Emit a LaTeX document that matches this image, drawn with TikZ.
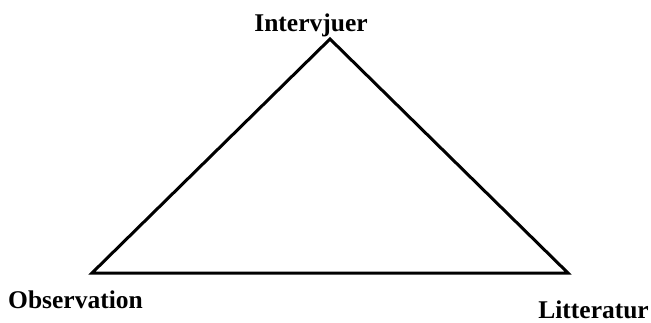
\documentclass[tikz,border=0pt]{standalone}
\usepackage{fontspec}
\setmainfont{Liberation Serif}
\begin{document}
\begin{tikzpicture}[x=1pt,y=-1pt,
  lbl/.style={font=\fontsize{25.5}{30}\selectfont\bfseries, inner sep=0pt},
  edge/.style={line width=3pt, line join=miter}]
\useasboundingbox (0,0) rectangle (651,322);
\fill[white] (0,0) rectangle (651,322);
\coordinate (top) at (330,39);
\coordinate (bl) at (92,273);
\coordinate (br) at (568,273);
\draw[edge] (top) -- (bl) -- (br) -- cycle;
\node[lbl, anchor=base] (int) at (311,31) {Intervjuer};
\node[lbl, anchor=base west] (obs) at (8,308) {Observation};
\node[lbl, anchor=base east] (lit) at (649,318) {Litteratur};
\end{tikzpicture}
\end{document}
